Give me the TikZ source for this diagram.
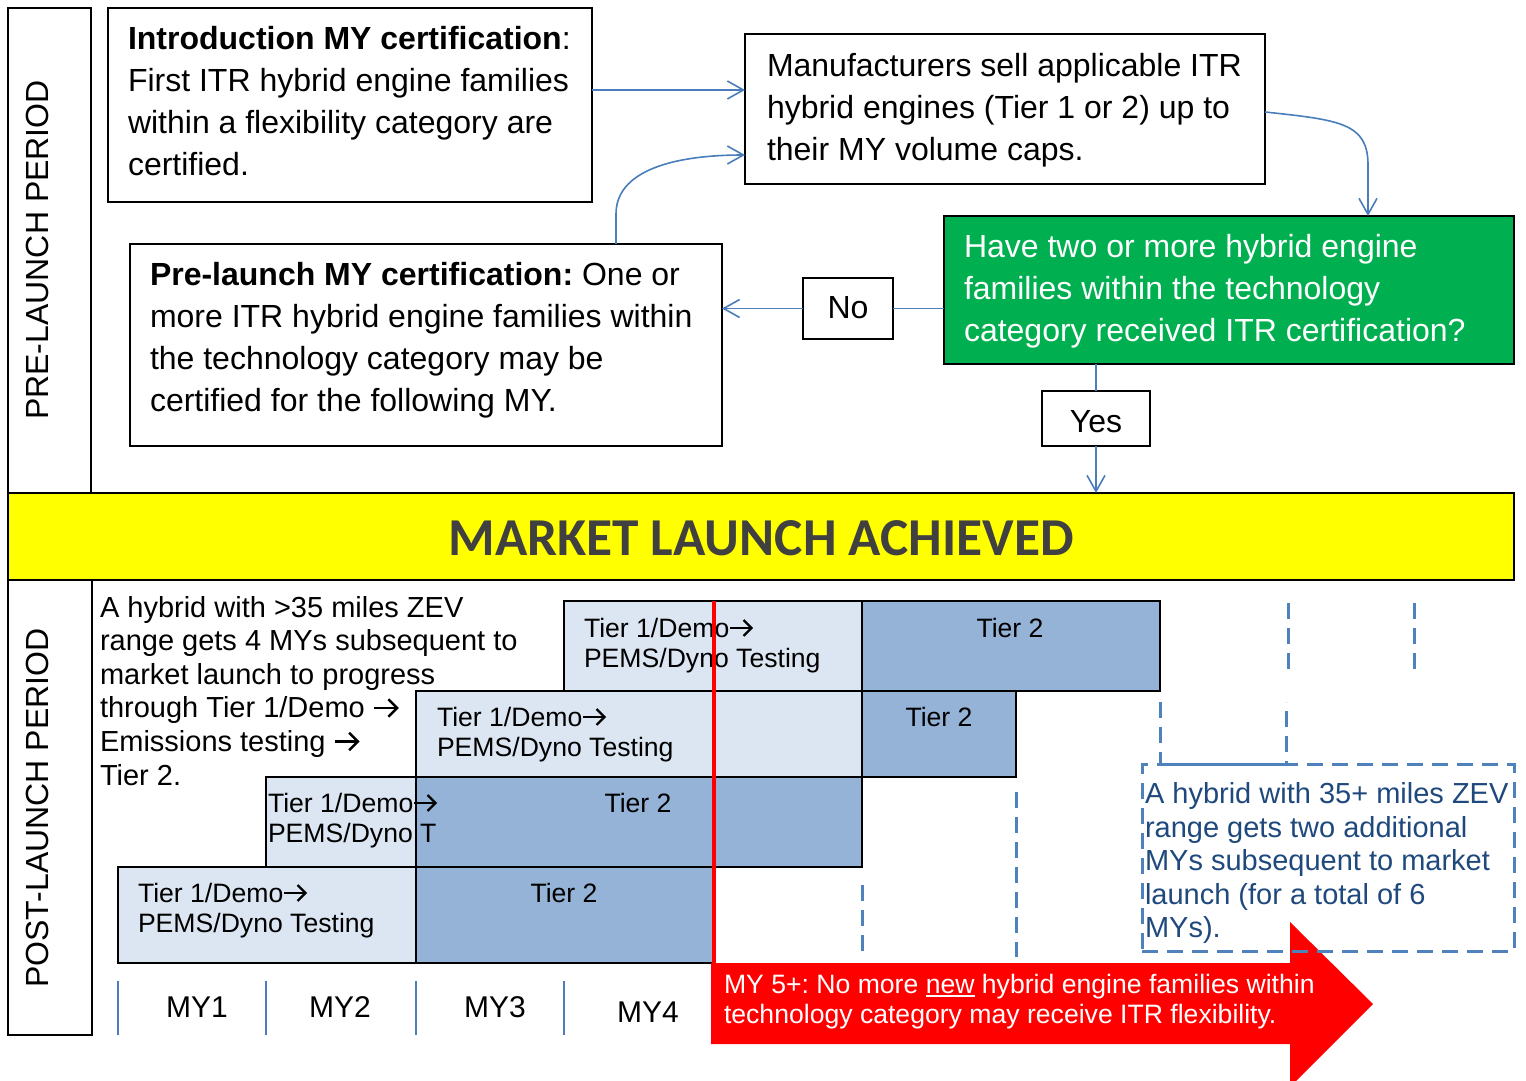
\documentclass[tikz,border=0pt]{standalone}
\usepackage{fontspec}
\setmainfont{Liberation Sans}
\newfontfamily\calib{Carlito}
\usetikzlibrary{arrows.meta,calc}
\definecolor{lblue}{HTML}{DCE6F2}
\definecolor{dblue}{HTML}{95B3D7}
\definecolor{lineblue}{HTML}{4A7EBB}
\definecolor{dashblue}{HTML}{4F81BD}
\definecolor{txtblue}{HTML}{1F497D}
\definecolor{ggreen}{HTML}{00B050}
\definecolor{dgray}{HTML}{404040}
\definecolor{pyellow}{HTML}{FFFF00}
\newcommand\myul[1]{\setbox0\hbox{#1}\rlap{\rule[-3.5pt]{\wd0}{1.6pt}}#1}
\newcommand\rarr{\tikz[baseline=0pt]\draw[line width=0.085em,-{Straight Barb[length=0.3em,width=0.6em]}] (0pt,0.34em) -- (0.85em,0.34em);}
\newcommand\ftop{\fontsize{32}{42}\selectfont}
\newcommand\fpara{\fontsize{29}{33.6}\selectfont}
\newcommand\ftier{\fontsize{26.6}{30.5}\selectfont}
\newcommand\fmy{\fontsize{30}{36}\selectfont}
\newcommand\fred{\fontsize{26.6}{30}\selectfont}
\begin{document}
\frenchspacing
\begin{tikzpicture}[x=1pt,y=-1pt,
  every node/.style={inner sep=0pt,outer sep=0pt},
  box/.style={draw=black,line width=2pt,fill=white,rectangle},
  panel/.style={draw=black,line width=2pt,rectangle},
  tierlight/.style={draw=black,line width=2pt,fill=lblue,rectangle},
  tierdark/.style={draw=black,line width=2pt,fill=dblue,rectangle},
  conn/.style={draw=lineblue,line width=1.6pt},
  arr/.style={conn,-{Straight Barb[length=16pt,width=18pt]}},
  txt/.style={anchor=base west,align=left},
  dsh/.style={draw=dashblue,line width=3pt,dash pattern=on 16pt off 9pt},
  axis/.style={draw=lineblue,line width=2pt}]
\useasboundingbox (0,0) rectangle (1526,1080);

% left panels
\node[panel,minimum width=83pt,minimum height=485pt] (prepanel) at (49.5,250.5) {};
\node[rotate=90,font=\ftop] (pretitle) at (37,250) {PRE-LAUNCH PERIOD};
\node[panel,minimum width=84pt,minimum height=455pt] (postpanel) at (50,807.5) {};
\node[rotate=90,font=\ftop] (posttitle) at (37,808) {POST-LAUNCH PERIOD};

% top boxes
\node[box,minimum width=484pt,minimum height=194pt] (intro) at (350,105) {};
\node[box,minimum width=520pt,minimum height=150pt] (manu) at (1005,109) {};
\node[box,minimum width=592pt,minimum height=202pt] (pre) at (426,345) {};
\node[box,fill=ggreen,minimum width=570pt,minimum height=148pt] (green) at (1229,290) {};
\node[box,minimum width=90pt,minimum height=61pt] (no) at (848,308.5) {};
\node[box,minimum width=108pt,minimum height=55pt] (yes) at (1096,418.5) {};

\node[txt,font=\ftop] (introtxt) at (128,175) {\textbf{Introduction MY certification}:\\First ITR hybrid engine families\\within a flexibility category are\\certified.};
\node[txt,font=\ftop] (manutxt) at (767,160) {Manufacturers sell applicable ITR\\hybrid engines (Tier 1 or 2) up to\\their MY volume caps.};
\node[txt,font=\ftop] (pretxt) at (150,411) {\textbf{Pre-launch MY certification:} One or\\more ITR hybrid engine families within\\the technology category may be\\certified for the following MY.};
\node[txt,font=\ftop,text=white] (greentxt) at (964,341) {Have two or more hybrid engine\\families within the technology\\category received ITR certification?};
\node[anchor=base,font=\ftop] (notxt) at (848,318) {No};
\node[anchor=base,font=\ftop] (yestxt) at (1096,432) {Yes};

% launch band
\node[draw=black,line width=2pt,fill=pyellow,minimum width=1506pt,minimum height=87pt] (launch) at (761,536.5) {};
\node[font={\calib\bfseries\fontsize{53.3}{60}\selectfont},text=dgray] (launchtxt) at (761,538) {MARKET LAUNCH ACHIEVED};

% connectors
\draw[arr] ([yshift=15pt]intro.east) -- ([yshift=19pt]manu.west);
\draw[arr] ([xshift=190pt]pre.north) -- ++(0,-30) .. controls +(0,-42) and +(-75,0) .. ([yshift=-46pt]manu.west);
\draw[arr] ([yshift=-3pt]manu.east) .. controls +(75,8) and +(0,-42) .. ([xshift=139pt,yshift=51pt]green.north) -- ([xshift=139pt]green.north);
\draw[conn] (green.west |- no.east) -- (no.east);
\draw[arr] (no.west) -- (no.west -| pre.east);
\draw[conn] (yes.north |- green.south) -- (yes.north);
\draw[arr] (yes.south) -- (yes.south |- launch.north);

% tier boxes
\node[tierlight,minimum width=298pt,minimum height=90pt] (t1a) at (713,646) {};
\node[tierdark,minimum width=298pt,minimum height=90pt] (t1b) at (1011,646) {};
\node[tierlight,minimum width=446pt,minimum height=86pt] (t2a) at (639,734) {};
\node[tierdark,minimum width=154pt,minimum height=86pt] (t2b) at (939,734) {};
\node[tierlight,minimum width=150pt,minimum height=90pt] (t3a) at (341,822) {};
\node[tierdark,minimum width=446pt,minimum height=90pt] (t3b) at (639,822) {};
\node[tierlight,minimum width=298pt,minimum height=96pt] (t4a) at (267,915) {};
\node[tierdark,minimum width=298pt,minimum height=96pt] (t4b) at (565,915) {};

\node[txt,font=\ftier] (t1atxt) at (584,667.5) {Tier 1/Demo\rarr\\PEMS/Dyno Testing};
\node[anchor=base,font=\ftier] (t1btxt) at (1010,637) {Tier 2};
\node[txt,font=\ftier] (t2atxt) at (437,756.5) {Tier 1/Demo\rarr\\PEMS/Dyno Testing};
\node[anchor=base,font=\ftier] (t2btxt) at (939,726) {Tier 2};
\node[txt,font=\ftier] (t3atxt) at (268,842.5) {Tier 1/Demo\rarr\\PEMS/Dyno T};
\node[anchor=base,font=\ftier] (t3btxt) at (638,812) {Tier 2};
\node[txt,font=\ftier] (t4atxt) at (138,932.5) {Tier 1/Demo\rarr\\PEMS/Dyno Testing};
\node[anchor=base,font=\ftier] (t4btxt) at (564,902) {Tier 2};

\node[txt,font=\fpara] (paratxt) at (100,785) {A hybrid with >35 miles ZEV\\range gets 4 MYs subsequent to\\market launch to progress\\through Tier 1/Demo \rarr\\Emissions testing \rarr\\Tier 2.};

% MY axis
\draw[axis] (118,981) -- (118,1035);
\draw[axis] (266,981) -- (266,1035);
\draw[axis] (416,981) -- (416,1035);
\draw[axis] (564,981) -- (564,1035);
\node[anchor=base,font=\fmy] (my1) at (197,1017) {MY1};
\node[anchor=base,font=\fmy] (my2) at (340,1017) {MY2};
\node[anchor=base,font=\fmy] (my3) at (495,1017) {MY3};
\node[anchor=base,font=\fmy] (my4) at (648,1022) {MY4};

% red line and arrow
\draw[red,line width=4pt] (714,601) -- (714,963);
\fill[red] (711,963) -- (1290,963) -- (1290,922) -- (1373,1004) -- (1294,1083) -- (1290,1083) -- (1290,1044) -- (711,1044) -- cycle;
\node[txt,font=\fred,text=white] (redtxt) at (724,1023) {MY 5+: No more \myul{new} hybrid engine families within\\technology category may receive ITR flexibility.};

% dashed extensions
\draw[dsh] (862,885) -- (862,957);
\draw[dsh] (1016,792) -- (1016,957);
\draw[dsh] (1288,603) -- (1288,675);
\draw[dsh] (1414,603) -- (1414,675);
\draw[dsh] (1160,702) -- (1160,764) -- (1286,764) -- (1286,702);
\node[dsh,rectangle,minimum width=372pt,minimum height=187pt] (dbox) at (1328,857.5) {};
\node[txt,font=\fpara,text=txtblue] (dboxtxt) at (1145,937.8) {A hybrid with 35+ miles ZEV\\range gets two additional\\MYs subsequent to market\\launch (for a total of 6\\MYs).};
\end{tikzpicture}
\end{document}
